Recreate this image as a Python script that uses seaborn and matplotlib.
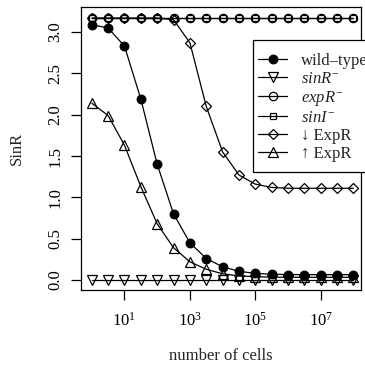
import matplotlib
matplotlib.use("Agg")
import matplotlib.pyplot as plt
import seaborn as sns
import pandas as pd
from matplotlib.patches import Rectangle

cells = [1, 3.162, 10, 31.62, 100, 316.2, 1e3, 3162, 1e4, 31623, 1e5,
         316228, 1e6, 3162278, 1e7, 31622777, 1e8]

wild_type = [3.09, 3.05, 2.83, 2.19, 1.40, 0.80, 0.45, 0.26, 0.16, 0.105,
             0.08, 0.07, 0.066, 0.065, 0.065, 0.065, 0.065]
sinR_minus = [0.0] * 17
expR_minus = [3.17] * 17
sinI_minus = [3.17] * 17
down_ExpR = [3.17, 3.17, 3.17, 3.17, 3.17, 3.15, 2.87, 2.10, 1.55, 1.27,
             1.16, 1.12, 1.11, 1.11, 1.11, 1.11, 1.11]
up_ExpR = [2.14, 1.99, 1.63, 1.13, 0.68, 0.39, 0.22, 0.13, 0.075, 0.05,
           0.04, 0.035, 0.033, 0.033, 0.033, 0.033, 0.033]

labels = ["wild\u2013type", r"$sinR^{-}$", r"$expR^{-}$", r"$sinI^{-}$",
          "\u2193 ExpR", "\u2191 ExpR"]
series = [wild_type, sinR_minus, expR_minus, sinI_minus, down_ExpR, up_ExpR]
y_ticks = [0.0, 0.5, 1.0, 1.5, 2.0, 2.5, 3.0]
x_ticks = [1e1, 1e3, 1e5, 1e7]
x_ticklabels = [r"$10^{1}$", r"$10^{3}$", r"$10^{5}$", r"$10^{7}$"]

sns.set_style("ticks")
plt.rcParams["font.family"] = ["Liberation Serif", "DejaVu Serif"]
plt.rcParams["mathtext.fontset"] = "custom"
plt.rcParams["mathtext.rm"] = "Liberation Serif"
plt.rcParams["mathtext.it"] = "Liberation Serif:italic"

FS = 12
W = H = 365.0

styles = [
    dict(marker="o", markersize=6.2, markerfacecolor="black"),
    dict(marker="v", markersize=6.5, markerfacecolor="none"),
    dict(marker="o", markersize=6, markerfacecolor="none"),
    dict(marker="s", markersize=4.2, markerfacecolor="none"),
    dict(marker="D", markersize=5.2, markerfacecolor="none"),
    dict(marker="^", markersize=7, markerfacecolor="none"),
]

fig = plt.figure(figsize=(3.65, 3.65), dpi=100)
ax = fig.add_axes([81.3 / W, 1 - 290 / H, (361 - 81.3) / W, (290 - 7.3) / H])

for vals, lab, st in zip(series, labels, styles):
    df = pd.DataFrame({"cells": cells, "SinR": vals})
    sns.lineplot(data=df, x="cells", y="SinR", ax=ax, color="black",
                 linewidth=0.9, markeredgecolor="black", markeredgewidth=0.9,
                 label=lab, **st)

ax.set_xscale("log")
ax.set_xlim(10 ** -0.32, 10 ** 8.23)
ax.set_ylim(-0.121, 3.30)
ax.set_xticks(x_ticks)
ax.set_xticklabels(x_ticklabels, fontsize=FS)
ax.minorticks_off()
ax.set_yticks(y_ticks)
ax.set_yticklabels([f"{v:.1f}" for v in y_ticks], fontsize=FS,
                   rotation=90, va="center")
ax.tick_params(axis="both", length=7, width=0.9, color="black",
               labelcolor="black")
ax.tick_params(axis="x", pad=9)
ax.tick_params(axis="y", pad=6)
for sp in ax.spines.values():
    sp.set_visible(True)
    sp.set_linewidth(0.9)
    sp.set_color("black")

ax.set_xlabel("number of cells", fontsize=FS)
ax.xaxis.set_label_coords((221 - 81.3) / 279.7, (H - 356 - 75) / 282.7)
ax.xaxis.label.set_va("center")
ax.set_ylabel("SinR", fontsize=FS)
ax.yaxis.set_label_coords((17 - 81.3) / 279.7, 0.5)
ax.yaxis.label.set_va("center")

# legend box (R style, with generous vertical padding)
box = Rectangle((253.3 / W, 1 - 171.7 / H), (W + 10 - 253.3) / W,
                (171.7 - 40) / H, transform=fig.transFigure,
                facecolor="white", edgecolor="black", linewidth=0.9,
                zorder=4.5, clip_on=False)
ax.add_artist(box)

leg = ax.legend(loc="upper left", bbox_to_anchor=(253.3 / W, 1 - 48 / H),
                bbox_transform=fig.transFigure, frameon=False,
                fontsize=FS, handlelength=1.75, handletextpad=0.8,
                borderpad=0.3, labelspacing=0.12, borderaxespad=0)
leg.set_zorder(5)

fig.savefig("out.png", dpi=100)
